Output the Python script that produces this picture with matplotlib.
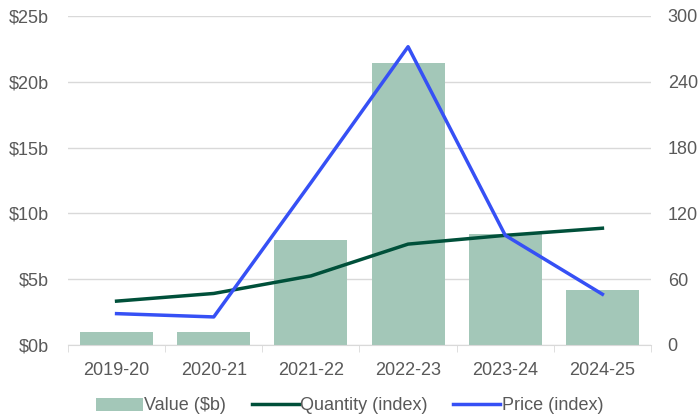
import matplotlib.pyplot as plt
import numpy as np

plt.rcParams['font.family'] = ['Liberation Sans', 'DejaVu Sans']

# data
years = ['2019-20', '2020-21', '2021-22', '2022-23', '2023-24', '2024-25']
value_b = [1.0, 1.0, 8.0, 21.4, 8.4, 4.2]
quantity_idx = [40, 47, 63, 92, 100, 106.5]
price_idx = [28.6, 25.6, 148, 272, 100, 46.3]

bar_col = '#a3c7b8'
qty_col = '#00503a'
price_col = '#3650f5'
txt_col = '#595959'
grid_col = '#d9d9d9'
fs = 13

fig = plt.figure(figsize=(6.99, 4.2), dpi=100)
ax = fig.add_axes([68 / 699, 1 - 345 / 420, (651 - 68) / 699, (345 - 16) / 420])
ax2 = ax.twinx()

x = np.arange(len(years))
ax.bar(x, value_b, width=0.75, color=bar_col, label='Value ($b)', zorder=2)
ax2.plot(x, quantity_idx, color=qty_col, lw=2.5, label='Quantity (index)', zorder=3)
ax2.plot(x, price_idx, color=price_col, lw=2.5, label='Price (index)', zorder=3)

ax.set_xlim(-0.5, len(years) - 0.5)
ax.set_ylim(0, 25)
ax2.set_ylim(0, 300)
ax.set_yticks(range(0, 26, 5))
ax.set_yticklabels([f'${v}b' for v in range(0, 26, 5)])
ax2.set_yticks(range(0, 301, 60))

ax.yaxis.grid(True, color=grid_col, lw=1, zorder=0)
ax.set_axisbelow(True)

for a in (ax, ax2):
    for s in ['top', 'left', 'right', 'bottom']:
        a.spines[s].set_visible(False)
    a.tick_params(axis='y', length=0, labelsize=fs, labelcolor=txt_col)
ax.tick_params(axis='y', pad=14)
ax2.tick_params(axis='y', pad=12)

ax.spines['bottom'].set_visible(True)
ax.spines['bottom'].set_color(grid_col)
ax.set_xticks(x)
ax.set_xticklabels(years)
ax.tick_params(axis='x', length=0, labelsize=fs, labelcolor=txt_col, pad=12)
ax.set_xticks(np.arange(-0.5, len(years), 1), minor=True)
ax.tick_params(axis='x', which='minor', length=5, color=grid_col)

h1, l1 = ax.get_legend_handles_labels()
h2, l2 = ax2.get_legend_handles_labels()
fig.legend(h1 + h2, l1 + l2, loc='center', bbox_to_anchor=(0.5, 1 - 406 / 420),
           ncol=3, frameon=False, fontsize=fs, labelcolor=txt_col,
           handlelength=2.6, handletextpad=0.1, columnspacing=1.4)

fig.savefig('out.png', dpi=100)
